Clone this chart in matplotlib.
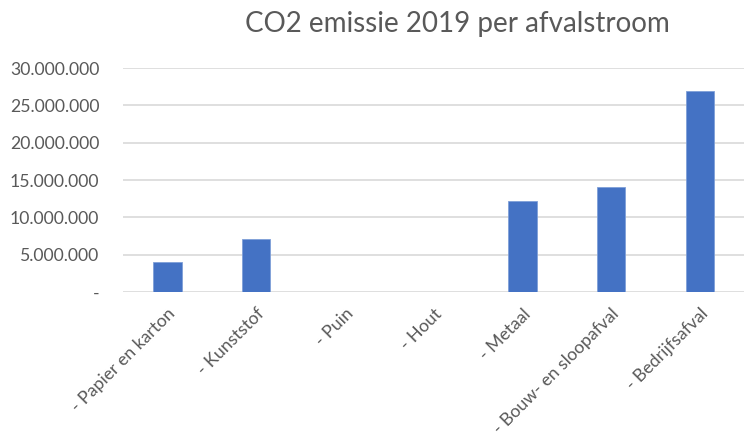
import matplotlib.pyplot as plt
from matplotlib.ticker import FuncFormatter

# CO2 emissie 2019 per afvalstroom
categories = ['- Papier en karton', '- Kunststof', '- Puin', '- Hout',
              '- Metaal', '- Bouw- en sloopafval', '- Bedrijfsafval']
emissie = [4000000, 7150000, 0, 0, 12200000, 14100000, 26900000]
y_ticks = [0, 5000000, 10000000, 15000000, 20000000, 25000000, 30000000]

plt.rcParams['font.family'] = ['Lato', 'DejaVu Sans']
text_color = '#595959'

fig = plt.figure(figsize=(7.45, 4.37), dpi=100)
ax = fig.add_axes([0.165, 0.332, 0.834, 0.512])

x = range(len(categories))
ax.bar(x, emissie, width=0.32, color='#4472C4', edgecolor='#7F9FD8',
       linewidth=0.6, zorder=3)

ax.set_ylim(0, 30000000)
ax.set_xlim(-0.5, len(categories) - 0.5)
ax.set_yticks(y_ticks)


def dotted(v, pos):
    if v == 0:
        return '-'
    return f'{int(v):,}'.replace(',', '.')


ax.yaxis.set_major_formatter(FuncFormatter(dotted))
ax.grid(axis='y', color='#D9D9D9', linewidth=1.2, zorder=0)
for side in ['top', 'right', 'left', 'bottom']:
    ax.spines[side].set_visible(False)
ax.tick_params(axis='both', length=0, colors=text_color, labelsize=12.7)
ax.tick_params(axis='y', pad=17)

ax.set_xticks(list(x))
ax.set_xticklabels(categories, rotation=45, ha='right',
                   rotation_mode='anchor')
ax.tick_params(axis='x', pad=10)

fig.suptitle('CO2 emissie 2019 per afvalstroom', x=0.614, y=0.975,
             va='top', fontsize=20, color=text_color)

fig.savefig('out.png', dpi=100)
